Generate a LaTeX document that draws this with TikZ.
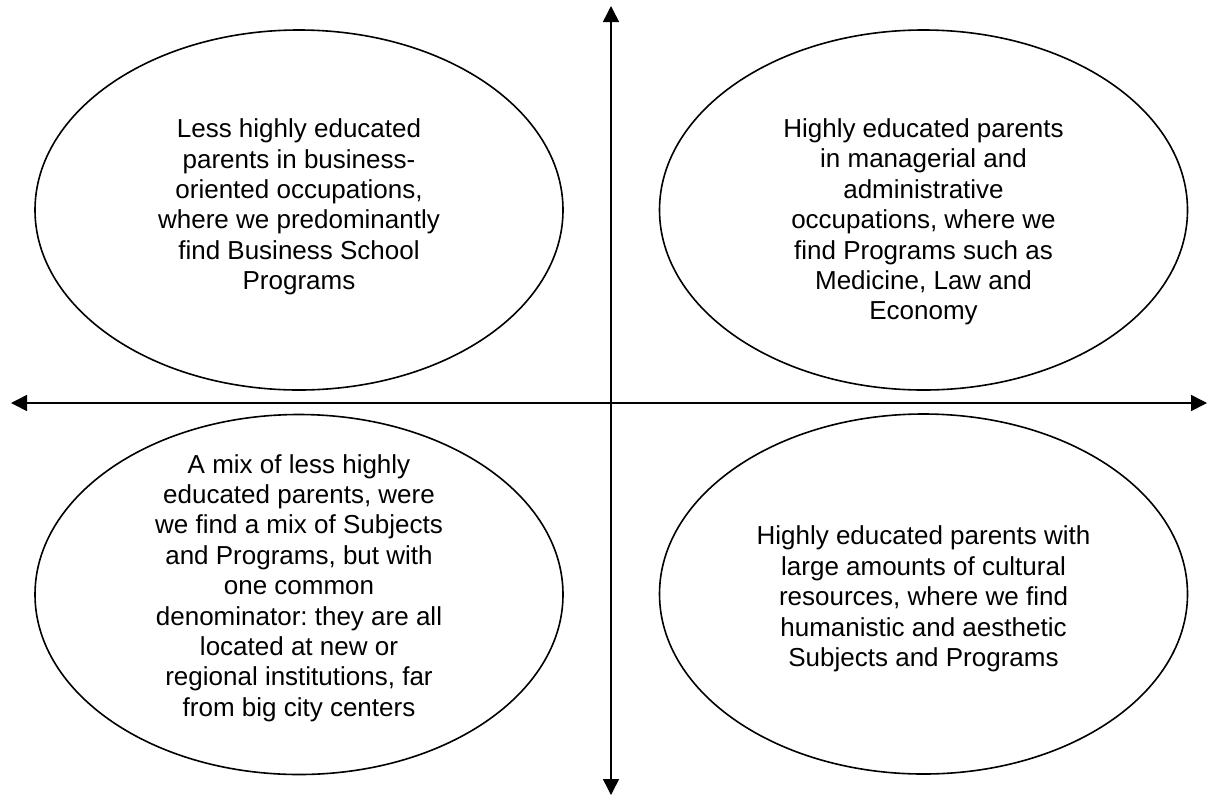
\documentclass[tikz,border=0pt]{standalone}
\usepackage{fontspec}
\setmainfont{Liberation Sans}
\usetikzlibrary{arrows.meta,shapes.geometric}
\frenchspacing
\tikzset{
  quad/.style={draw=black, line width=1.6pt, ellipse, minimum width=528pt, minimum height=360pt, inner sep=0pt},
  quadtext/.style={align=center, font=\fontsize{26pt}{30.4pt}\selectfont, inner sep=0pt},
  axis/.style={line width=1.5pt, {Triangle[length=16pt,width=16pt]}-{Triangle[length=16pt,width=16pt]}}
}
\begin{document}
\begin{tikzpicture}[x=1pt,y=-1pt]
\useasboundingbox (0,0) rectangle (1209,796);
\coordinate (L) at (11,403);
\coordinate (R) at (1207,403);
\coordinate (T) at (611,6);
\coordinate (B) at (611,795);
\draw[axis] (L) -- (R);
\draw[axis] (T) -- (B);
\node[quad] (tl) at (299,210) {};
\node[quad] (tr) at (923.5,210) {};
\node[quad] (bl) at (299,594.5) {};
\node[quad] (br) at (923.5,594) {};
\node[quadtext] (tlt) at (299,207) {Less highly educated\\parents in business-\\oriented occupations,\\where we predominantly\\find Business School\\Programs};
\node[quadtext] (trt) at (923.5,222) {Highly educated parents\\in managerial and\\administrative\\occupations, where we\\find Programs such as\\Medicine, Law and\\Economy};
\node[quadtext] (blt) at (299,588) {A mix of less highly\\educated parents, were\\we find a mix of Subjects\\and Programs, but with\\one common\\denominator: they are all\\located at new or\\regional institutions, far\\from big city centers};
\node[quadtext] (brt) at (923.5,599) {Highly educated parents with\\large amounts of cultural\\resources, where we find\\humanistic and aesthetic\\Subjects and Programs};
\end{tikzpicture}
\end{document}
